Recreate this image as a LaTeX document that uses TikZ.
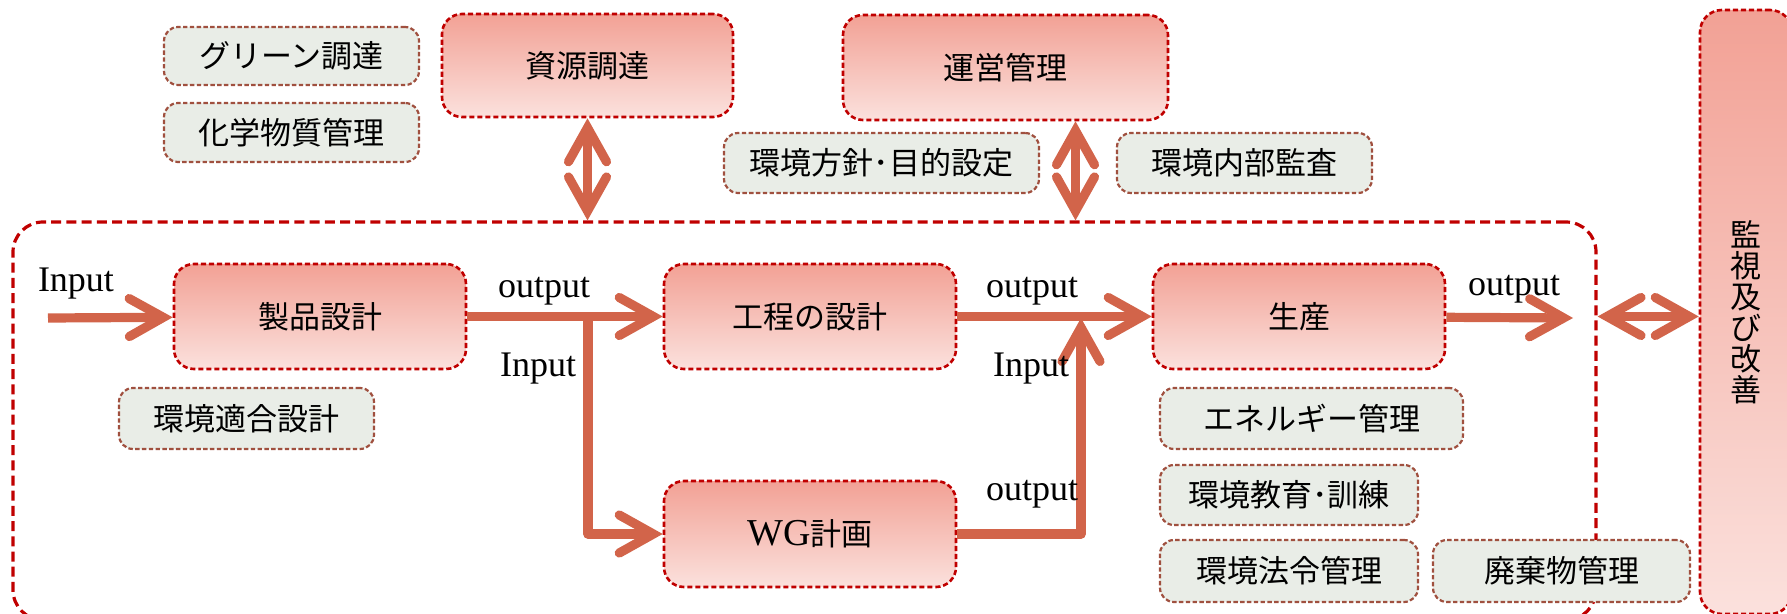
\documentclass[tikz,border=0pt]{standalone}
\usepackage{fontspec}
\setmainfont{Liberation Serif}
\newfontfamily\cjk{Noto Sans CJK JP}
\usetikzlibrary{arrows.meta,calc}

\definecolor{frameRed}{HTML}{C00000}
\definecolor{noteEdge}{HTML}{A0503F}
\definecolor{noteFill}{HTML}{E9EDE7}
\definecolor{pinkTop}{HTML}{F2A195}
\definecolor{pinkBot}{HTML}{FBE1DD}
\definecolor{flowCol}{HTML}{D2644A}

\newcommand\jpfont{\cjk\fontsize{15.5}{15.5}\selectfont}

\tikzset{
  procbox/.style={draw=frameRed, line width=1.3pt, dash pattern=on 2.6pt off 1.4pt,
    rounded corners=10pt, top color=pinkTop, bottom color=pinkBot,
    inner sep=0pt, font=\jpfont, align=center},
  notebox/.style={draw=noteEdge, line width=1.1pt, dash pattern=on 2.2pt off 1.2pt,
    rounded corners=7pt, fill=noteFill, inner sep=0pt, font=\jpfont},
  scopeframe/.style={draw=frameRed, line width=1.6pt, dash pattern=on 5pt off 2.6pt,
    rounded corners=15pt, inner sep=0pt},
  flow/.style={draw=flowCol, line width=4.6pt, line join=round,
    >={Straight Barb[length=17pt,width=19pt,line cap=round,line join=miter]}},
  lbl/.style={font=\fontsize{18}{20}\selectfont, inner sep=0pt, anchor=base},
}

\begin{document}
\begin{tikzpicture}[x=0.5pt,y=-0.5pt]
\useasboundingbox (0,0) rectangle (1787,614);
\clip (0,0) rectangle (1787,614);

% outer frame around the design/production flow
\node[scopeframe, minimum width=791.5pt, minimum height=199pt] (big) at (804.5,421) {};

% monitoring column on the right
\node[procbox, rounded corners=11pt, minimum width=46pt, minimum height=302pt,
      font=\cjk\fontsize{15.5}{15.5}\selectfont] (mon) at (1746,312)
      {監\\視\\及\\び\\改\\善};

% upper management blocks
\node[procbox, minimum width=145.5pt, minimum height=51.5pt] (src) at (587.5,65.5) {資源調達};
\node[procbox, minimum width=162.5pt, minimum height=52.5pt] (ops) at (1005.5,67.5) {運営管理};

\node[notebox, minimum width=127.5pt, minimum height=29pt] (green) at (291.5,56) {グリーン調達};
\node[notebox, minimum width=127.5pt, minimum height=29.5pt] (chem) at (291.5,132.5) {化学物質管理};
\node[notebox, minimum width=157.5pt, minimum height=30pt] (policy) at (881.5,163) {環境方針･目的設定};
\node[notebox, minimum width=127.5pt, minimum height=30pt] (audit) at (1244.5,163) {環境内部監査};

% process blocks
\node[procbox, minimum width=146pt, minimum height=52.5pt] (d1) at (320,316.5) {製品設計};
\node[procbox, minimum width=146pt, minimum height=52.5pt] (d2) at (810,316.5) {工程の設計};
\node[procbox, minimum width=146pt, minimum height=52.5pt] (d3) at (1299,316.5) {生産};
\node[procbox, minimum width=146pt, minimum height=53pt] (wg) at (810,534)
      {{\rmfamily\fontsize{19}{19}\selectfont WG}計画};

% supporting activities
\node[notebox, minimum width=127.5pt, minimum height=30.5pt] (eco) at (246.5,418.5) {環境適合設計};
\node[notebox, minimum width=151.5pt, minimum height=30.5pt] (energy) at (1311.5,418.5) {エネルギー管理};
\node[notebox, minimum width=129pt, minimum height=30pt] (train) at (1289,495) {環境教育･訓練};
\node[notebox, minimum width=129pt, minimum height=31pt] (law) at (1289,571) {環境法令管理};
\node[notebox, minimum width=128.5pt, minimum height=31pt] (waste) at (1561.5,571) {廃棄物管理};

% connectors
\coordinate (start) at (48,318);
\coordinate (br) at (588,318);
\coordinate (jn) at (1081,318);
\coordinate (pend) at (1573,318);
\path (ops.south) ++(70,0) coordinate (opsd);

\draw[flow,->] (start) -- (d1);
\draw[flow,->] (d1) -- (d2);
\draw[flow,->] (br) |- (wg.west);
\draw[flow,->] (d2) -- (d3);
\draw[flow,->] (wg.east) -| (jn);
\draw[flow,->] (d3) -- (pend);
\draw[flow,<->] (big.east |- d3.east) -- (mon.west |- d3.east);
\draw[flow,<->] (src.south) -- (src.south |- big.north);
\draw[flow,<->] (opsd) -- (opsd |- big.north);

% flow labels
\node[lbl] (in1) at (76,292) {Input};
\node[lbl] (out1) at (544,298) {output};
\node[lbl] (in2) at (538,377) {Input};
\node[lbl] (out2) at (1032,298) {output};
\node[lbl] (in3) at (1031,377) {Input};
\node[lbl] (out3) at (1032,500) {output};
\node[lbl] (out4) at (1514,296) {output};
\end{tikzpicture}
\end{document}
